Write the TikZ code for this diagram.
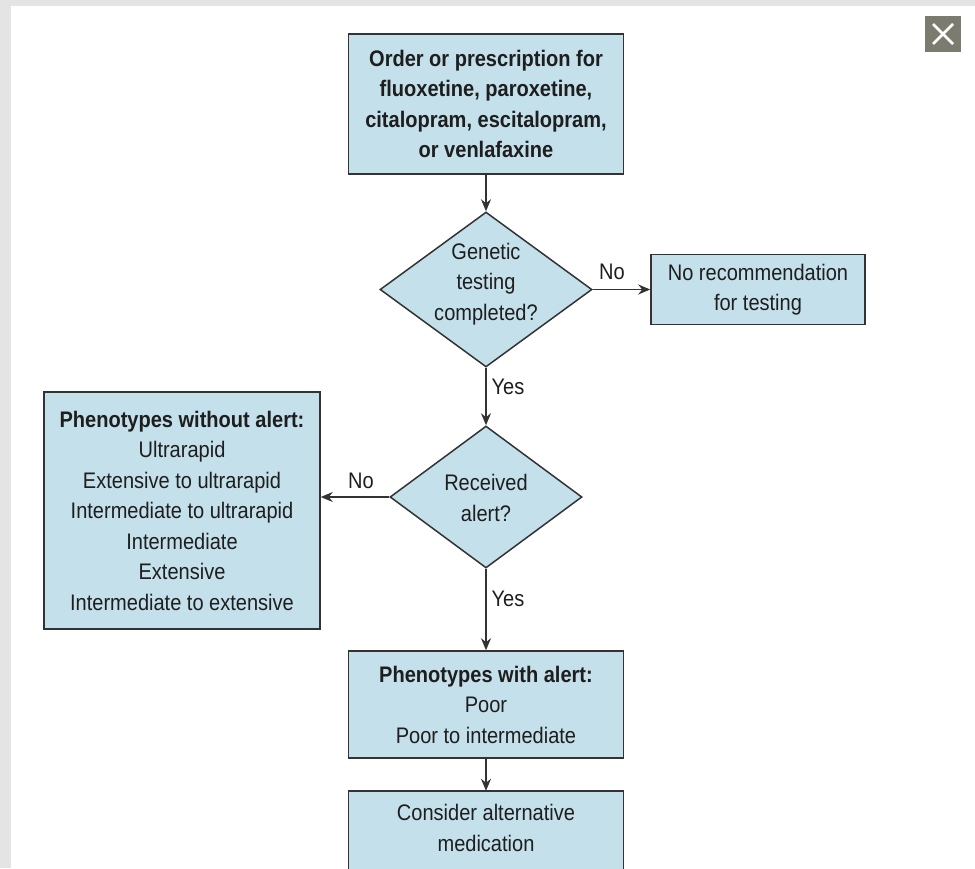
\documentclass[tikz,border=0pt]{standalone}
\usepackage{fontspec}
\setmainfont[FakeStretch=0.89]{Liberation Sans}
\usetikzlibrary{shapes.geometric,arrows.meta}
\definecolor{boxfill}{HTML}{C4E0EA}
\definecolor{boxline}{HTML}{333333}
\definecolor{txtc}{HTML}{1E1E1E}
\definecolor{outer}{HTML}{E4E4E4}
\definecolor{xbtn}{HTML}{7B7B70}
\tikzset{
  fbox/.style={draw=boxline, fill=boxfill, line width=1.5pt, inner sep=0pt, align=center, text=txtc},
  dia/.style={diamond, draw=boxline, fill=boxfill, line width=1.5pt, inner sep=0pt},
  txt/.style={align=center, text=txtc, inner sep=0pt},
  conn/.style={draw=boxline, line width=1.5pt, -{Stealth[length=12pt,width=10pt]}},
  lbl/.style={text=txtc, inner sep=0pt}
}
\begin{document}
\begin{tikzpicture}[x=1pt,y=-1pt, font=\fontsize{22.5}{30.5}\selectfont]
\useasboundingbox (0,0) rectangle (975,868);
\clip (0,0) rectangle (975,868);
\fill[outer] (0,0) rectangle (975,868);
\fill[white] (11,6) rectangle (975,868);
% close button
\fill[xbtn] (925,16) rectangle (961,52);
\draw[white, line width=2.6pt] (933,24) -- (953,44) (953,24) -- (933,44);

\node[fbox, minimum width=275pt, minimum height=140pt] (order) at (486,104)
  {\bfseries Order or prescription for\\\bfseries fluoxetine, paroxetine,\\\bfseries citalopram, escitalopram,\\\bfseries or venlafaxine};

\node[dia, minimum width=212pt, minimum height=155pt] (d1) at (486,289.5) {};
\node[txt] (d1t) at (486,284) {Genetic\\testing\\completed?};

\node[fbox, minimum width=214pt, minimum height=70pt] (norec) at (758,289.5)
  {No recommendation\\for testing};

\node[dia, minimum width=192pt, minimum height=142pt] (d2) at (486,497) {};
\node[txt] (d2t) at (486,498) {Received\\alert?};

\node[fbox, minimum width=276pt, minimum height=237pt] (without) at (182,510.5)
  {\bfseries Phenotypes without alert:\\Ultrarapid\\Extensive to ultrarapid\\Intermediate to ultrarapid\\Intermediate\\Extensive\\Intermediate to extensive};

\node[fbox, minimum width=275pt, minimum height=107pt] (with) at (486,704.5)
  {\bfseries Phenotypes with alert:\\Poor\\Poor to intermediate};

\draw[draw=boxline, fill=boxfill, line width=1.5pt] (348.5,791) rectangle (623.5,940);
\node[txt, minimum width=275pt, minimum height=74pt] (alt) at (486,828)
  {Consider alternative\\medication};

\draw[conn] (order) -- (d1.north);
\draw[conn] (d1.east) -- (d1.east -| norec.west);
\draw[conn] (d1.south) -- (d2.north);
\draw[conn] (d2.west) -- (d2.west -| without.east);
\draw[conn] (d2.south) -- (with.north);
\draw[conn] (with.south) -- (alt.north);

\node[lbl] (no1) at (612,272) {No};
\node[lbl] (yes1) at (508,387) {Yes};
\node[lbl] (no2) at (361,481) {No};
\node[lbl] (yes2) at (508,599) {Yes};
\end{tikzpicture}
\end{document}
